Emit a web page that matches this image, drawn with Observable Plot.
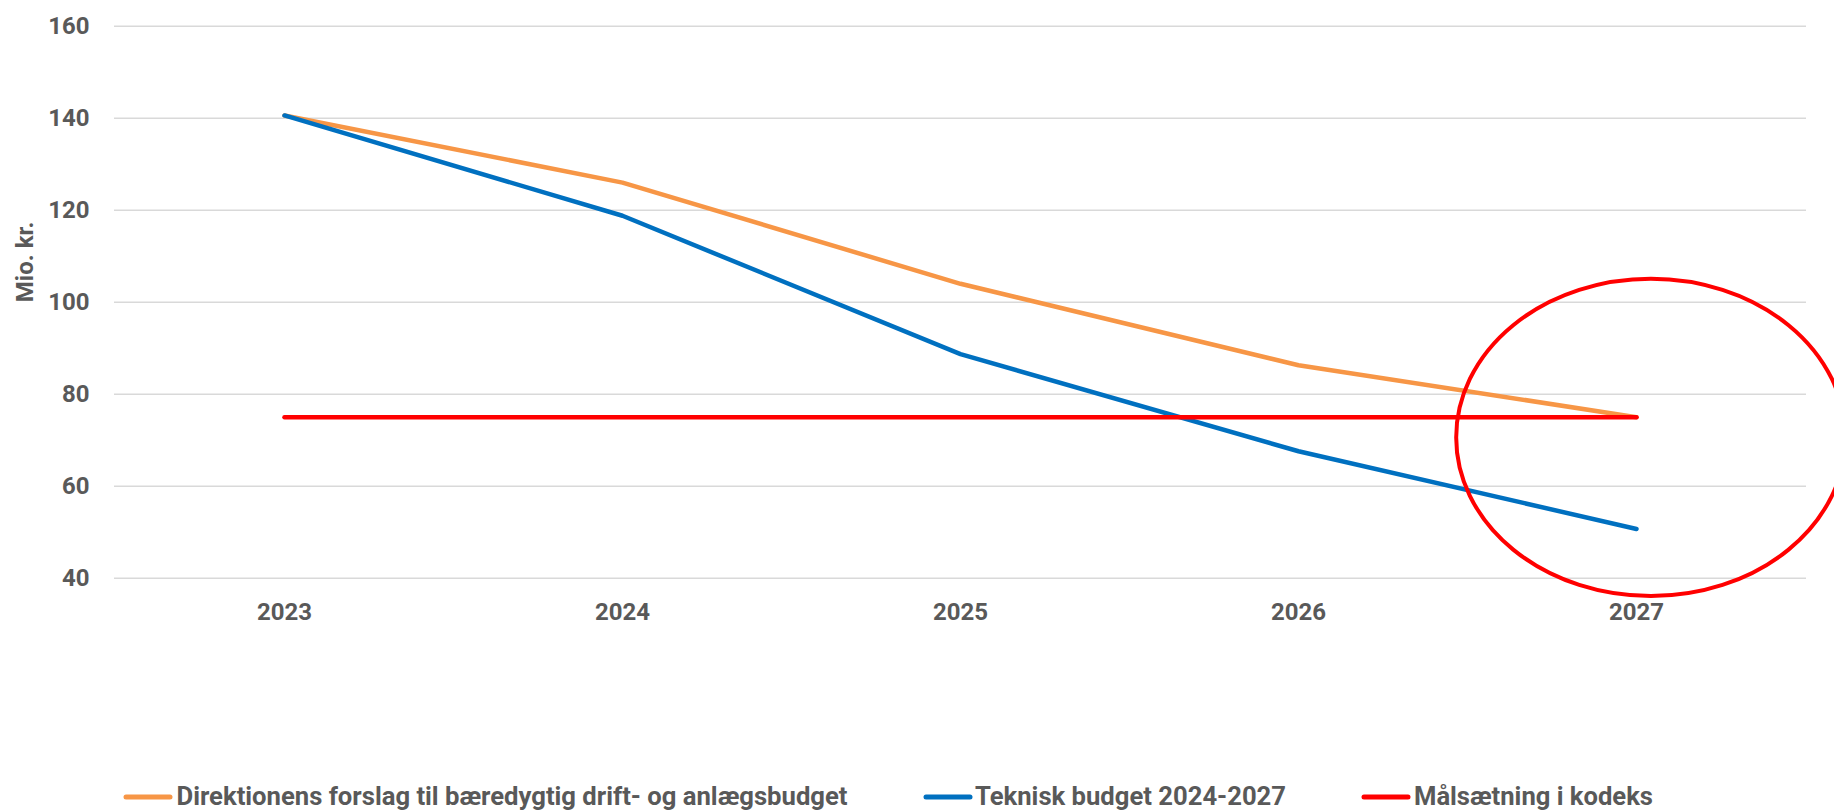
<!DOCTYPE html>
<html>
<head>
<meta charset="utf-8">
<script src="https://cdn.jsdelivr.net/npm/d3@7"></script>
<script src="https://cdn.jsdelivr.net/npm/@observablehq/plot@0.6"></script>
<style>
  html, body { margin: 0; padding: 0; background: #fff; overflow: hidden; }
  #chart { width: 1834px; }
  #legend { display: block; }
</style>
</head>
<body>
<div id="chart"></div>
<script>
// ---- data ----
const years = ["2023", "2024", "2025", "2026", "2027"];
const direktionen = [140.6, 126.0, 104.0, 86.3, 75.0];
const teknisk = [140.6, 118.8, 88.7, 67.6, 50.7];
const maalsaetning = [75, 75, 75, 75, 75];
const seriesNames = [
  "Direktionens forslag til bæredygtig drift- og anlægsbudget",
  "Teknisk budget 2024-2027",
  "Målsætning i kodeks"
];
const seriesColors = ["#F79646", "#0070C0", "#FF0000"];
const yTicks = [40, 60, 80, 100, 120, 140, 160];
const yLabel = "Mio. kr.";
// highlight ellipse around the last year (center year, y-center, y half-height in units, x offset / radius in steps)
const highlightYear = ["2027"];
const highlightY = [70.5];
const highlightYHalf = [34.5];
const highlightXOffsetSteps = [0.044];
const highlightXRadiusSteps = [0.576];

// ---- table ----
const rows = [];
[direktionen, teknisk, maalsaetning].forEach((vals, s) => {
  years.forEach((yr, i) => rows.push({series: seriesNames[s], year: yr, value: vals[i]}));
});

const W = 1834, H = 775;
const textColor = "#595959";

function ellipseMark(index, scales) {
  const x = scales.x, y = scales.y;
  const step = x(years[1]) - x(years[0]);
  const cx = x(highlightYear[0]) + highlightXOffsetSteps[0] * step;
  const cy = y(highlightY[0]);
  const ry = Math.abs(y(highlightY[0] + highlightYHalf[0]) - cy);
  const rx = highlightXRadiusSteps[0] * step;
  const e = document.createElementNS("http://www.w3.org/2000/svg", "ellipse");
  e.setAttribute("cx", cx);
  e.setAttribute("cy", cy);
  e.setAttribute("rx", rx);
  e.setAttribute("ry", ry);
  e.setAttribute("fill", "none");
  e.setAttribute("stroke", "#FF0000");
  e.setAttribute("stroke-width", 4);
  return e;
}

const plot = Plot.plot({
  width: W,
  height: H,
  marginTop: 25.7,
  marginBottom: H - 577.7,
  marginLeft: 114,
  marginRight: 28,
  style: {fontFamily: "Roboto, sans-serif", fontSize: "24px", fontWeight: "bold", color: textColor, background: "#fff"},
  x: {type: "point", domain: years, padding: 0.5, label: null},
  y: {domain: [40, 160], label: null},
  color: {domain: seriesNames, range: seriesColors},
  marks: [
    Plot.gridY(yTicks, {stroke: "#D9D9D9", strokeOpacity: 1, strokeWidth: 1.6}),
    Plot.axisY(yTicks, {tickSize: 0, tickPadding: 25, fontSize: 24, fontWeight: "bold", fill: textColor, label: null}),
    Plot.axisX({tickSize: 0, tickPadding: 25, fontSize: 24, fontWeight: "bold", fill: textColor, label: null}),
    Plot.text([yLabel], {frameAnchor: "left", dx: -89, rotate: -90, text: d => d, fontSize: 24, fontWeight: "bold", fill: textColor}),
    Plot.line(rows, {x: "year", y: "value", z: "series", stroke: "series", strokeWidth: 4.5, strokeLinecap: "round", strokeLinejoin: "round"}),
    ellipseMark
  ]
});
document.getElementById("chart").appendChild(plot);

// ---- legend ----
const legendItems = [
  {swatch: [126, 170], textX: 176.5, textW: 671},
  {swatch: [926, 970], textX: 975, textW: 311},
  {swatch: [1364, 1408], textX: 1414, textW: 239}
];
const ns = "http://www.w3.org/2000/svg";
const leg = document.createElementNS(ns, "svg");
leg.setAttribute("id", "legend");
leg.setAttribute("width", W);
leg.setAttribute("height", 35);
seriesNames.forEach((name, i) => {
  const it = legendItems[i];
  const ln = document.createElementNS(ns, "line");
  ln.setAttribute("x1", it.swatch[0]); ln.setAttribute("x2", it.swatch[1]);
  ln.setAttribute("y1", 22); ln.setAttribute("y2", 22);
  ln.setAttribute("stroke", seriesColors[i]);
  ln.setAttribute("stroke-width", 5);
  ln.setAttribute("stroke-linecap", "round");
  leg.appendChild(ln);
  const t = document.createElementNS(ns, "text");
  t.setAttribute("x", it.textX);
  t.setAttribute("y", 30);
  t.setAttribute("textLength", it.textW);
  t.setAttribute("lengthAdjust", "spacingAndGlyphs");
  t.setAttribute("fill", textColor);
  t.setAttribute("font-family", "Roboto, sans-serif");
  t.setAttribute("font-weight", "bold");
  t.setAttribute("font-size", 26);
  t.textContent = name;
  leg.appendChild(t);
});
document.getElementById("chart").appendChild(leg);
</script>
</body>
</html>
